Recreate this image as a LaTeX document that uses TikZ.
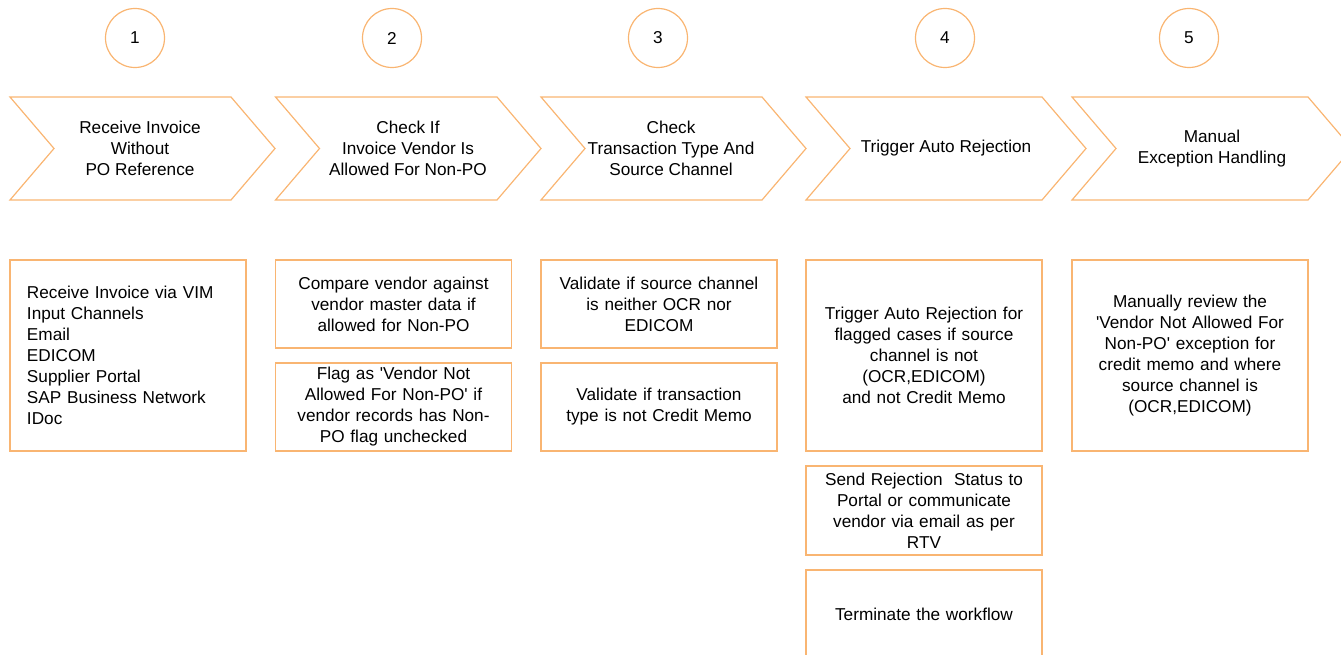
\documentclass[tikz,border=0pt]{standalone}
\usepackage{fontspec}
\setmainfont{Liberation Sans}
\definecolor{stepline}{HTML}{F9B572}
\tikzstyle{stepnum}=[circle, draw=stepline, line width=1.2pt, minimum size=59pt, inner sep=0pt]
\tikzstyle{chevline}=[draw=stepline, line width=1.2pt, line join=miter]
\tikzstyle{chevtext}=[align=center, inner sep=0pt]
\tikzstyle{detail}=[draw=stepline, line width=1.2pt, minimum width=236pt, inner xsep=10pt, text width=216pt, align=center]

\begin{document}
\begin{tikzpicture}[x=1pt, y=-1pt, font=\fontsize{17.2}{21}\selectfont]
\clip (0,0) rectangle (1341,655);
% Step numbers
    \node[stepnum] (s1) at (135,38) {1};
    \node[stepnum] (s2) at (392,38) {2};
    \node[stepnum] (s3) at (658,38) {3};
    \node[stepnum] (s4) at (945,38) {4};
    \node[stepnum] (s5) at (1189,38) {5};
% Chevrons
    \foreach \x/\w in {10/221,275.5/221.5,541/221,806/236,1072/236}
        \draw[chevline] (\x,97) -- ++(\w,0) -- ++(44,51.5) -- ++(-44,51.5) -- ++(-\w,0) -- ++(44,-51.5) -- cycle;
    \node[chevtext] (c1) at (140,148.5) {Receive Invoice\\Without\\PO Reference};
    \node[chevtext] (c2) at (408,148.5) {Check If\\Invoice Vendor Is\\Allowed For Non-PO};
    \node[chevtext] (c3) at (671,148.5) {Check\\Transaction Type And\\Source Channel};
    \node[chevtext] (c4) at (946,148.5) {Trigger Auto Rejection};
    \node[chevtext] (c5) at (1212,149) {Manual\\Exception Handling};
% Details
    \node[detail, minimum height=191pt, inner xsep=17pt, text width=202pt, align=left] (d1) at (128,355.5)
        {Receive Invoice via VIM\\Input Channels\\Email\\EDICOM\\Supplier Portal\\SAP Business Network\\IDoc};
    \node[detail, minimum height=88pt] (d2a) at (393.5,304)
        {Compare vendor against\\vendor master data if\\allowed for Non-PO};
    \node[detail, minimum height=88pt] (d2b) at (393.5,407)
        {Flag as \textquotesingle Vendor Not\\Allowed For Non-PO\textquotesingle{} if\\vendor records has Non-\\PO flag unchecked};
    \node[detail, minimum height=88pt] (d3a) at (659,304)
        {Validate if source channel\\is neither OCR nor\\EDICOM};
    \node[detail, minimum height=88pt] (d3b) at (659,407)
        {Validate if transaction\\type is not Credit Memo};
    \node[detail, minimum height=191pt] (d4a) at (924,355.5)
        {Trigger Auto Rejection for\\flagged cases if source\\channel is not\\(OCR,EDICOM)\\and not Credit Memo};
    \node[detail, minimum height=89pt] (d4b) at (924,510.5)
        {Send Rejection\ \ Status to\\Portal or communicate\\vendor via email as per\\RTV};
    \node[detail, minimum height=89pt] (d4c) at (924,614.5)
        {Terminate the workflow};
    \node[detail, minimum height=191pt] (d5) at (1190,355.5)
        {Manually review the\\\textquotesingle Vendor Not Allowed For\\Non-PO\textquotesingle{} exception for\\credit memo and where\\source channel is\\(OCR,EDICOM)};
\end{tikzpicture}
\end{document}
